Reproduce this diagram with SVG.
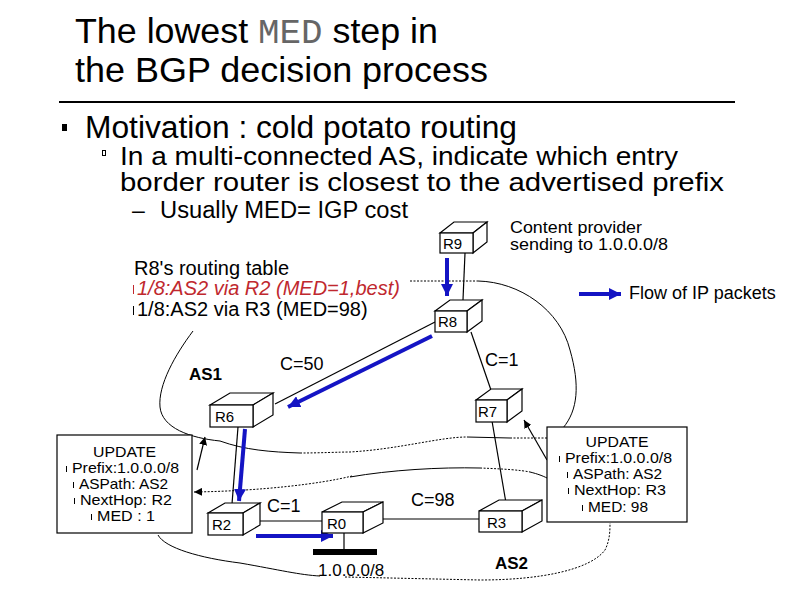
<svg xmlns="http://www.w3.org/2000/svg" width="794" height="595" viewBox="0 0 794 595">
<defs>
<style>
text{font-family:"Liberation Sans",Arial,sans-serif;fill:#000}
.rt{fill:#fff;stroke:#000;stroke-width:1.2}
.lbl{font-size:15px}
.c{font-size:18px}
.upd{font-size:14.5px}
.link{stroke:#000;stroke-width:1.2;fill:none}
.as{stroke:#000;stroke-width:1;fill:none}
.dot{stroke:#000;stroke-width:1;fill:none;stroke-dasharray:2 1.5}
.flow{stroke:#1414c4;stroke-width:4;fill:none;marker-end:url(#bh)}
</style>
<marker id="bh" markerUnits="userSpaceOnUse" markerWidth="14" markerHeight="12" refX="12" refY="6" orient="auto">
<path d="M0,0 L12,6 L0,12 Z" fill="#1414c4"/>
</marker>
<marker id="kh" markerUnits="userSpaceOnUse" markerWidth="9" markerHeight="8" refX="8" refY="4" orient="auto">
<path d="M0,0 L8,4 L0,8 Z" fill="#000"/>
</marker>
</defs>
<rect width="794" height="595" fill="#fff"/>

<g id="title">
<text x="75" y="43" font-size="34.5" textLength="363" lengthAdjust="spacingAndGlyphs">The lowest <tspan font-family="Liberation Mono,Courier New,monospace" style="fill:#666">MED</tspan> step in</text>
<text x="75" y="82" font-size="34.5" textLength="413" lengthAdjust="spacingAndGlyphs">the BGP decision process</text>
<line x1="59" y1="102" x2="735" y2="102" stroke="#000" stroke-width="2"/>
</g>

<g id="bullets">
<rect x="62" y="124" width="5" height="7" fill="#000"/>
<text x="85" y="138" font-size="31" textLength="432" lengthAdjust="spacingAndGlyphs">Motivation : cold potato routing</text>
<rect x="102.5" y="150.5" width="3" height="5" fill="none" stroke="#000" stroke-width="1"/>
<text x="120" y="165" font-size="25.5" textLength="558" lengthAdjust="spacingAndGlyphs">In a multi-connected AS, indicate which entry</text>
<text x="120" y="191" font-size="25.5" textLength="604" lengthAdjust="spacingAndGlyphs">border router is closest to the advertised prefix</text>
<text x="132" y="218" font-size="23">–</text>
<text x="160" y="218" font-size="23" textLength="248" lengthAdjust="spacingAndGlyphs">Usually MED= IGP cost</text>
</g>

<g id="routing-table">
<text x="134" y="275" font-size="20">R8's routing table</text>
<rect x="133" y="285" width="1" height="9" fill="#c0282e"/>
<text x="137" y="295" font-size="20" font-style="italic" style="fill:#c0282e">1/8:AS2 via R2 (MED=1,best)</text>
<rect x="133" y="306" width="1" height="9" fill="#000"/>
<text x="137" y="316" font-size="20">1/8:AS2 via R3 (MED=98)</text>
</g>

<g id="as-boundaries">
<path class="as" d="M193,331 C175,355 158,385 160,407 C162,428 190,438 220,441 C245,450 270,452 300,453"/>
<path class="dot" d="M300,453 C320,453 340,452 350,452 C400,449 440,437 467,437"/>
<path class="as" d="M467,437 L510,438"/>
<path class="dot" d="M510,438 L547,438"/>
<path class="dot" d="M410,281 L478,281"/>
<path class="as" d="M478,281 C520,282 560,310 570,350 C580,385 578,410 563,428"/>
<path class="dot" d="M352,476 C320,484 260,491 194,492" marker-end="url(#kh)"/>
<path class="as" d="M350,477 C390,470 440,467 480,468"/>
<path class="dot" d="M480,468 C505,469 520,470 530,472"/>
<path class="as" d="M530,472 C538,474 543,476 547,478"/>
<path class="as" d="M158,535 C165,548 200,558 240,563 C280,570 300,575 320,576"/>
<path class="dot" d="M345,577 L480,580 C540,580 590,570 605,550 C610,540 610,530 610,523"/>
<text x="189" y="380" font-size="17" font-weight="bold">AS1</text>
<text x="495" y="569" font-size="17" font-weight="bold">AS2</text>
</g>

<g id="connectors">
<line class="link" x1="465" y1="253" x2="463" y2="300"/>
<line class="link" x1="435" y1="322" x2="275" y2="404"/>
<line class="link" x1="471" y1="332" x2="492" y2="393"/>
<line class="link" x1="238" y1="427" x2="232" y2="504"/>
<line class="link" x1="243" y1="521" x2="322" y2="521"/>
<line class="link" x1="372" y1="519" x2="479" y2="519"/>
<line class="link" x1="492" y1="421" x2="506" y2="503"/>
<line class="link" x1="344" y1="532" x2="344" y2="550"/>
<rect x="313" y="549" width="64" height="6" fill="#000"/>
<path class="link" d="M197,470 L205,437" marker-end="url(#kh)"/>
<path class="link" d="M547,460 L524,420" marker-end="url(#kh)"/>
<path class="flow" d="M447,258 L447,296"/>
<path class="flow" d="M432,336 L288,407"/>
<path class="flow" d="M245,429 L239,501"/>
<path class="flow" d="M256,536 L333,536"/>
<path class="flow" d="M579,294 L621,294"/>
<text class="c" x="280" y="370">C=50</text>
<text class="c" x="485" y="366">C=1</text>
<text class="c" x="267" y="512">C=1</text>
<text class="c" x="411" y="506">C=98</text>
<text x="318" y="576" font-size="17">1.0.0.0/8</text>
</g>

<g id="R9">
<polygon class="rt" points="440,233 454,222 487,222 473,233"/>
<polygon class="rt" points="473,233 487,222 487,242 473,253"/>
<rect class="rt" x="440" y="233" width="33" height="20"/>
<text class="lbl" x="443" y="249">R9</text>
</g>
<g id="R8">
<polygon class="rt" points="435,311 450,300 482,300 467,311"/>
<polygon class="rt" points="467,311 482,300 482,321 467,332"/>
<rect class="rt" x="435" y="311" width="32" height="21"/>
<text class="lbl" x="438" y="327">R8</text>
</g>
<g id="R6">
<polygon class="rt" points="210,405 230,393 273,393 253,405"/>
<polygon class="rt" points="253,405 273,393 273,415 253,427"/>
<rect class="rt" x="210" y="405" width="43" height="22"/>
<text class="lbl" x="215" y="422">R6</text>
</g>
<g id="R7">
<polygon class="rt" points="476,400 491,389 522,389 507,400"/>
<polygon class="rt" points="507,400 522,389 522,411 507,422"/>
<rect class="rt" x="476" y="400" width="31" height="22"/>
<text class="lbl" x="478" y="417">R7</text>
</g>
<g id="R2">
<polygon class="rt" points="208,513 225,503 260,503 243,513"/>
<polygon class="rt" points="243,513 260,503 260,525 243,535"/>
<rect class="rt" x="208" y="513" width="35" height="22"/>
<text class="lbl" x="212" y="530">R2</text>
</g>
<g id="R0">
<polygon class="rt" points="322,512 342,502 383,502 363,512"/>
<polygon class="rt" points="363,512 383,502 383,523 363,533"/>
<rect class="rt" x="322" y="512" width="41" height="21"/>
<text class="lbl" x="327" y="529">R0</text>
</g>
<g id="R3">
<polygon class="rt" points="479,511 499,500 542,500 522,511"/>
<polygon class="rt" points="522,511 542,500 542,521 522,532"/>
<rect class="rt" x="479" y="511" width="43" height="21"/>
<text class="lbl" x="487" y="528">R3</text>
</g>

<g id="content-provider">
<text x="510" y="233" font-size="16.5" textLength="132" lengthAdjust="spacingAndGlyphs">Content provider</text>
<text x="510" y="250" font-size="16.5" textLength="158" lengthAdjust="spacingAndGlyphs">sending to 1.0.0.0/8</text>
</g>
<g id="legend">
<text x="629" y="299" font-size="18">Flow of IP packets</text>
</g>

<g id="update-R2">
<rect x="57" y="435" width="135" height="98" fill="#fff" stroke="#000" stroke-width="1.2"/>
<text class="upd" x="124.5" y="457" text-anchor="middle" textLength="63" lengthAdjust="spacingAndGlyphs">UPDATE</text>
<rect x="66" y="466" width="1" height="6" fill="#000"/>
<text class="upd" x="72" y="473" textLength="107" lengthAdjust="spacingAndGlyphs">Prefix:1.0.0.0/8</text>
<rect x="73" y="482" width="1" height="6" fill="#000"/>
<text class="upd" x="79" y="489" textLength="89" lengthAdjust="spacingAndGlyphs">ASPath: AS2</text>
<rect x="74" y="498" width="1" height="6" fill="#000"/>
<text class="upd" x="80" y="505" textLength="92" lengthAdjust="spacingAndGlyphs">NextHop: R2</text>
<rect x="91" y="514" width="1" height="6" fill="#000"/>
<text class="upd" x="97" y="521" textLength="58" lengthAdjust="spacingAndGlyphs">MED : 1</text>
</g>

<g id="update-R3">
<rect x="547" y="427" width="140" height="95" fill="#fff" stroke="#000" stroke-width="1.2"/>
<text class="upd" x="617" y="447" text-anchor="middle" textLength="63" lengthAdjust="spacingAndGlyphs">UPDATE</text>
<rect x="559" y="456" width="1" height="6" fill="#000"/>
<text class="upd" x="565" y="463" textLength="107" lengthAdjust="spacingAndGlyphs">Prefix:1.0.0.0/8</text>
<rect x="567" y="472" width="1" height="6" fill="#000"/>
<text class="upd" x="573" y="479" textLength="89" lengthAdjust="spacingAndGlyphs">ASPath: AS2</text>
<rect x="568" y="488" width="1" height="6" fill="#000"/>
<text class="upd" x="574" y="495" textLength="92" lengthAdjust="spacingAndGlyphs">NextHop: R3</text>
<rect x="582" y="505" width="1" height="6" fill="#000"/>
<text class="upd" x="588" y="512" textLength="60" lengthAdjust="spacingAndGlyphs">MED: 98</text>
</g>
</svg>
